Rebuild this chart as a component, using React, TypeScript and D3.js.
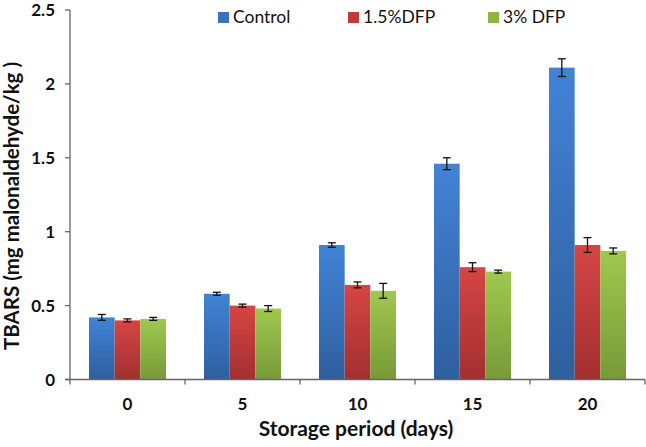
import React from "react";
import * as d3 from "d3";

const categories = ["0", "5", "10", "15", "20"];
const seriesNames = ["Control", "1.5%DFP", "3% DFP"];
const controlValues = [0.42, 0.58, 0.91, 1.46, 2.11];
const controlErrors = [0.02, 0.01, 0.015, 0.04, 0.06];
const dfp15Values = [0.40, 0.50, 0.64, 0.76, 0.91];
const dfp15Errors = [0.01, 0.01, 0.02, 0.03, 0.05];
const dfp3Values = [0.41, 0.48, 0.60, 0.73, 0.87];
const dfp3Errors = [0.01, 0.02, 0.05, 0.01, 0.02];
const yTicks = [0, 0.5, 1, 1.5, 2, 2.5];
const yTickLabels = ["0", "0.5", "1", "1.5", "2", "2.5"];

const colors = [
  { top: "#4283d6", bottom: "#2e5f9e", legend: "#3b72bd" },
  { top: "#d64545", bottom: "#a32f2f", legend: "#c03a3a" },
  { top: "#a0c84e", bottom: "#779a38", legend: "#8eb544" },
];

export default function App() {
  const W = 646, H = 447;
  const left = 70, right = 645, top = 10, bottom = 379.5;
  const x = d3.scaleBand<string>().domain(categories).range([left, right]).paddingInner(0.33).paddingOuter(0.165);
  const y = d3.scaleLinear().domain([0, 2.5]).range([bottom, top]);
  const x1 = d3.scaleBand<string>().domain(seriesNames).range([0, x.bandwidth()]);
  const values = [controlValues, dfp15Values, dfp3Values];
  const errors = [controlErrors, dfp15Errors, dfp3Errors];
  const step = (right - left) / categories.length;
  const font = "Lato, 'Open Sans', sans-serif";
  const axisColor = "#666";
  const legendX = [218, 348, 488];

  return (
    <svg width={W} height={H} style={{ position: "absolute", left: 0, top: 0, background: "#fff" }}>
      <defs>
        {colors.map((c, i) => (
          <linearGradient key={i} id={`g${i}`} x1="0" y1="0" x2="0" y2="1">
            <stop offset="0%" stopColor={c.top} />
            <stop offset="100%" stopColor={c.bottom} />
          </linearGradient>
        ))}
      </defs>
      {categories.map((cat, ci) =>
        seriesNames.map((s, si) => {
          const v = values[si][ci];
          const e = errors[si][ci];
          const bx = (x(cat) as number) + (x1(s) as number);
          const bw = x1.bandwidth();
          const cx = bx + bw / 2;
          return (
            <g key={`${ci}-${si}`}>
              <rect x={bx} y={y(v)} width={bw} height={bottom - y(v)} fill={`url(#g${si})`} />
              <line x1={cx} x2={cx} y1={y(v + e)} y2={y(v - e)} stroke="#111" strokeWidth={1.3} />
              <line x1={cx - 4} x2={cx + 4} y1={y(v + e)} y2={y(v + e)} stroke="#111" strokeWidth={1.3} />
              <line x1={cx - 4} x2={cx + 4} y1={y(v - e)} y2={y(v - e)} stroke="#111" strokeWidth={1.3} />
            </g>
          );
        })
      )}
      <line x1={left} x2={left} y1={top} y2={bottom} stroke={axisColor} strokeWidth={1.3} />
      {yTicks.map((t, i) => (
        <g key={t}>
          <line x1={left - 5} x2={left} y1={y(t)} y2={y(t)} stroke={axisColor} strokeWidth={1.3} />
          <text x={left - 15} y={y(t)} dy="0.36em" textAnchor="end" fontFamily={font} fontWeight="bold" fontSize={17} fill="#111">
            {yTickLabels[i]}
          </text>
        </g>
      ))}
      <line x1={left - 5} x2={right} y1={bottom} y2={bottom} stroke={axisColor} strokeWidth={1.3} />
      {d3.range(categories.length + 1).map((i) => (
        <line key={i} x1={left + i * step} x2={left + i * step} y1={bottom} y2={bottom + 5} stroke={axisColor} strokeWidth={1.3} />
      ))}
      {categories.map((cat) => (
        <text key={cat} x={(x(cat) as number) + x.bandwidth() / 2} y={410} textAnchor="middle" fontFamily={font} fontWeight="bold" fontSize={17} fill="#111">
          {cat}
        </text>
      ))}
      <text x={356} y={436} textAnchor="middle" fontFamily={font} fontWeight="bold" fontSize={21} fill="#111">
        Storage period (days)
      </text>
      <text transform={`translate(19,206) rotate(-90)`} textAnchor="middle" fontFamily={font} fontWeight="bold" fontSize={20.5} fill="#111">
        TBARS (mg malonaldehyde/kg )
      </text>
      {seriesNames.map((s, i) => (
        <g key={s}>
          <rect x={legendX[i]} y={12} width={11} height={11} fill={colors[i].legend} />
          <text x={legendX[i] + 15} y={23} fontFamily={font} fontSize={17.5} fill="#111">
            {s}
          </text>
        </g>
      ))}
    </svg>
  );
}
